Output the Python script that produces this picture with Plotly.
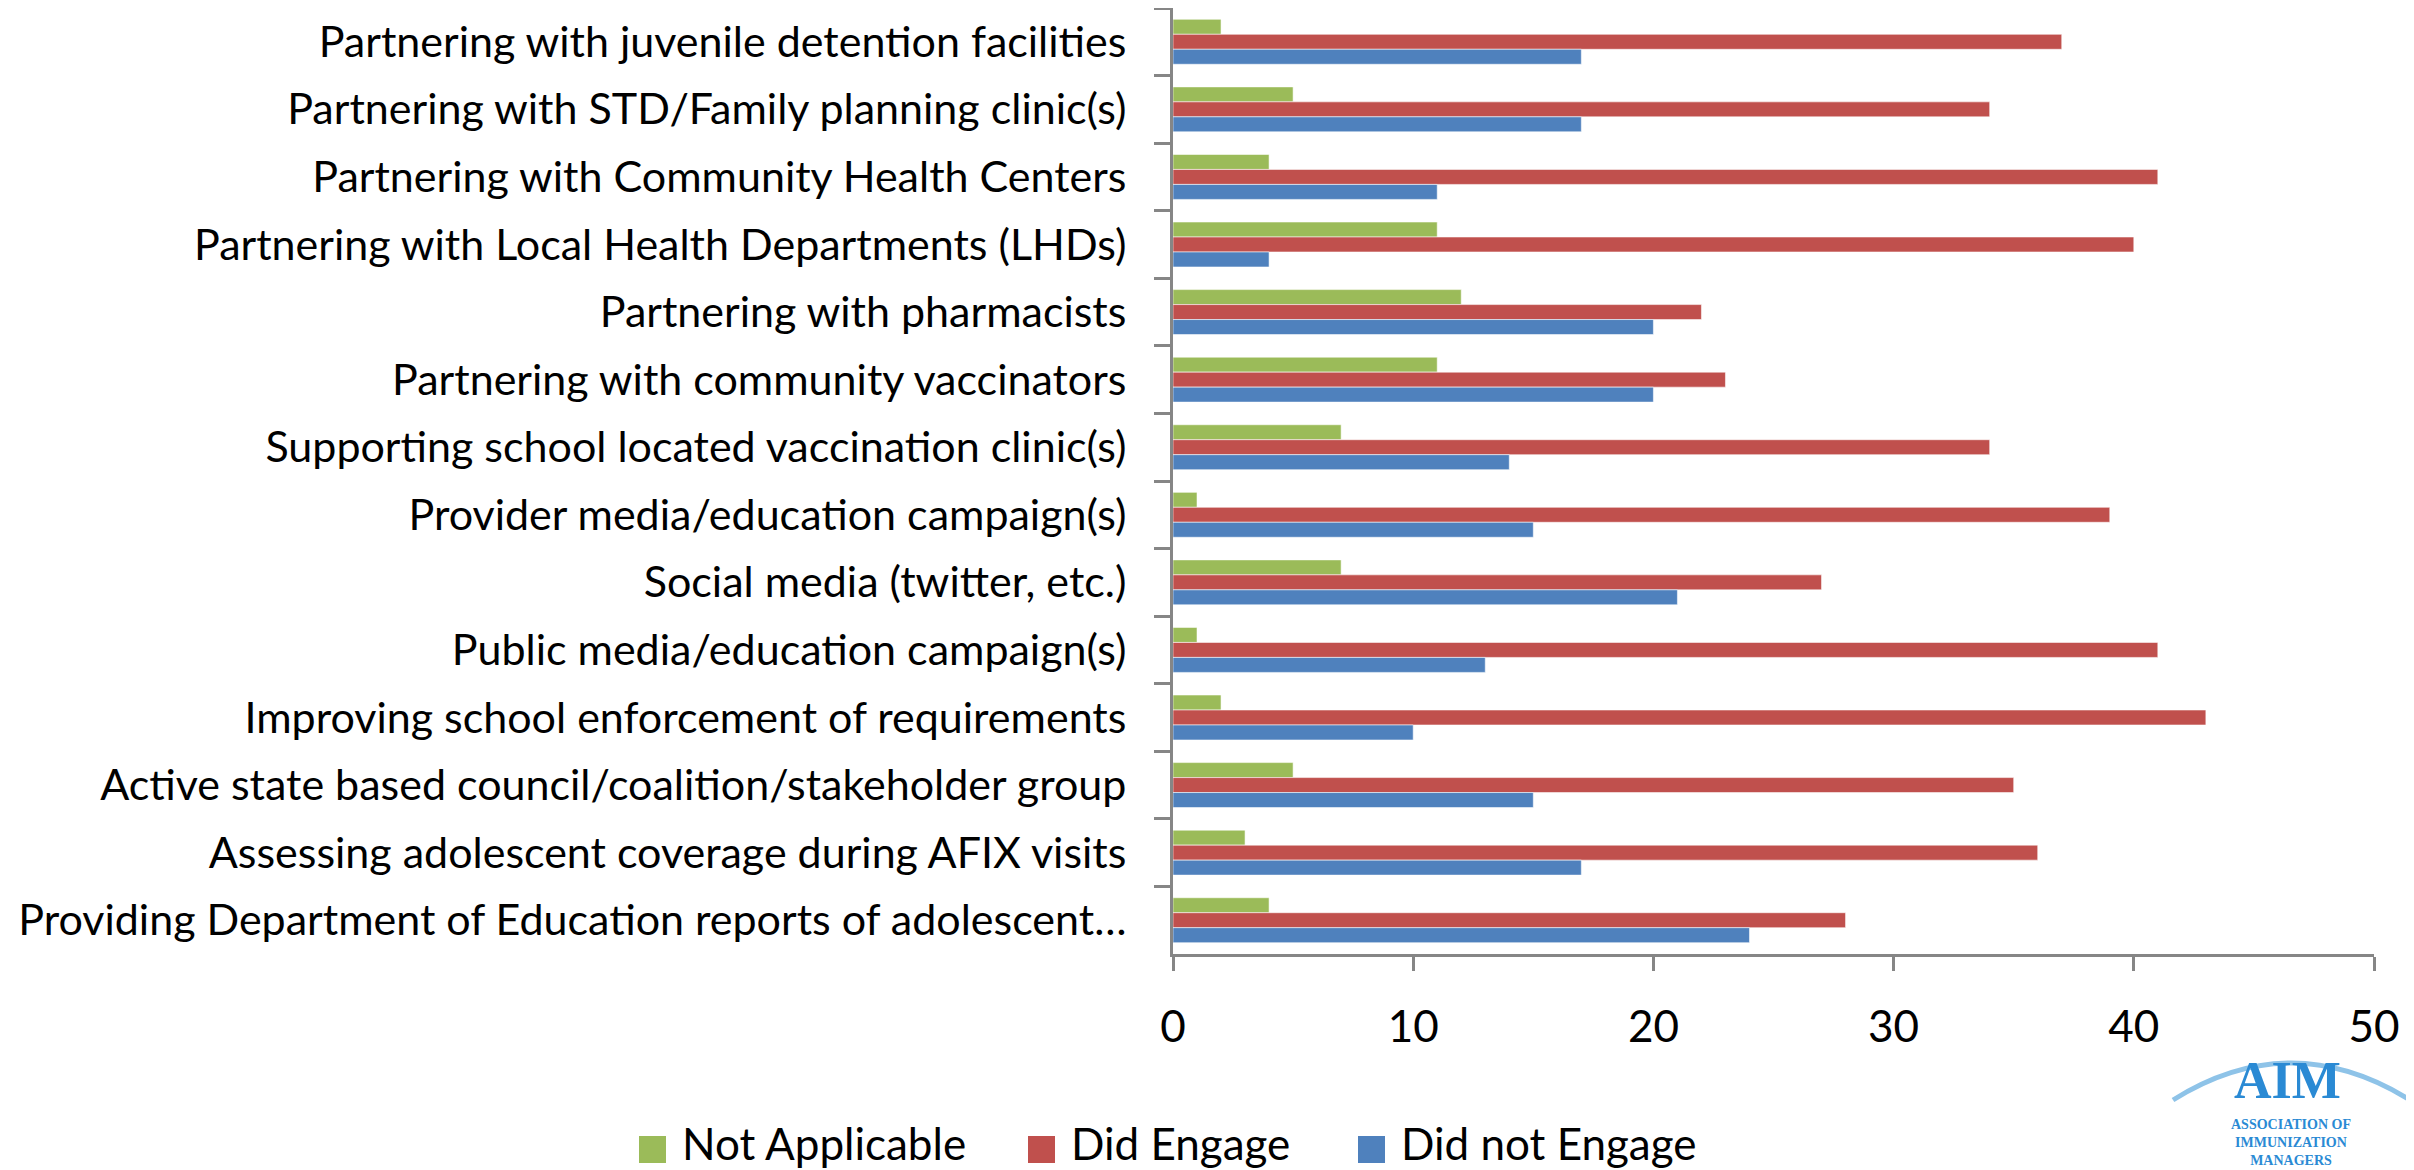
import plotly.graph_objects as go

categories = [
    "Partnering with juvenile detention facilities",
    "Partnering with STD/Family planning clinic(s)",
    "Partnering with Community Health Centers",
    "Partnering with Local Health Departments (LHDs)",
    "Partnering with pharmacists",
    "Partnering with community vaccinators",
    "Supporting school located vaccination clinic(s)",
    "Provider media/education campaign(s)",
    "Social media (twitter, etc.)",
    "Public media/education campaign(s)",
    "Improving school enforcement of requirements",
    "Active state based council/coalition/stakeholder group",
    "Assessing adolescent coverage during AFIX visits",
    "Providing Department of Education reports of adolescent…",
]
not_applicable = [2, 5, 4, 11, 12, 11, 7, 1, 7, 1, 2, 5, 3, 4]
did_engage = [37, 34, 41, 40, 22, 23, 34, 39, 27, 41, 43, 35, 36, 28]
did_not_engage = [17, 17, 11, 4, 20, 20, 14, 15, 21, 13, 10, 15, 17, 24]
x_ticks = [0, 10, 20, 30, 40, 50]
series_names = ["Not Applicable", "Did Engage", "Did not Engage"]
series_colors = ["#9BBB59", "#C0504D", "#4F81BD"]

# the page body has an 8px margin, so the figure starts at page pixel (8, 8)
OFF = 8
W, H = 2414 - OFF, 1170 - OFF
ML, MR, MT, MB = 1173 - OFF, 40, 0, 216
PW, PH = W - ML - MR, H - MT - MB
FONT = "Lato"
FS = 43


def px(x):  # page pixel -> paper x
    return (x - OFF - ML) / PW


def py(y):  # page pixel -> paper y
    return (H - MB - (y - OFF)) / PH


fig = go.Figure()
for name, vals, col in zip(series_names, [not_applicable, did_engage, did_not_engage], series_colors):
    fig.add_trace(go.Bar(
        y=categories, x=vals, name=name, orientation="h", showlegend=False,
        marker=dict(color=col, line=dict(color="rgba(255,255,255,0.55)", width=1)),
    ))

fig.update_layout(
    width=W, height=H,
    margin=dict(l=ML, r=MR, t=MT, b=MB, autoexpand=False),
    barmode="group", bargap=0.335, bargroupgap=0,
    plot_bgcolor="white", paper_bgcolor="white",
    font=dict(family=FONT, size=FS, color="black"),
    showlegend=False,
)
fig.update_yaxes(
    type="category", autorange="reversed", automargin=False,
    showline=True, linecolor="#868686", linewidth=3,
    ticks="outside", tickson="boundaries", ticklen=16, tickcolor="#868686", tickwidth=3,
    ticklabelstandoff=35, showgrid=False,
    tickfont=dict(family=FONT, size=FS),
)
fig.update_xaxes(
    range=[0, 50], tickvals=x_ticks, ticktext=[str(v) for v in x_ticks], automargin=False,
    showline=True, linecolor="#868686", linewidth=3,
    ticks="outside", ticklen=14, tickcolor="#868686", tickwidth=3,
    showgrid=False, zeroline=False, ticklabelstandoff=18,
    tickfont=dict(family=FONT, size=FS + 1),
)

# legend (drawn as swatches + labels, matching the reference's square swatches)
swatch_left = [639, 1028, 1358]
for name, col, sx in zip(series_names, series_colors, swatch_left):
    fig.add_shape(type="rect", xref="paper", yref="paper",
                  x0=px(sx), x1=px(sx + 27), y0=py(1163), y1=py(1136),
                  fillcolor=col, line=dict(width=0))
    fig.add_annotation(xref="paper", yref="paper", x=px(sx + 41), y=py(1143),
                       xanchor="left", yanchor="middle", text=name, showarrow=False,
                       font=dict(family=FONT, size=44, color="black"))

# AIM logo approximation
fig.add_shape(type="path", xref="paper", yref="paper",
              path=f"M {px(2173)},{py(1100)} Q {px(2291)},{py(1026)} {px(2410)},{py(1100)}",
              line=dict(color="#8EC3E8", width=5))
fig.add_annotation(xref="paper", yref="paper", x=px(2287), y=py(1080), xanchor="center", yanchor="middle",
                   text="<b>AIM</b>", showarrow=False, borderpad=0,
                   font=dict(family="Liberation Serif", size=52, color="#2A8AD4"))
fig.add_annotation(xref="paper", yref="paper", x=px(2291), y=py(1169), xanchor="center", yanchor="bottom",
                   text="<b>ASSOCIATION OF<br>IMMUNIZATION<br>MANAGERS</b>", showarrow=False, borderpad=0,
                   font=dict(family="Liberation Serif", size=14, color="#2A8AD4"), align="center")

fig.write_html("out.html")
